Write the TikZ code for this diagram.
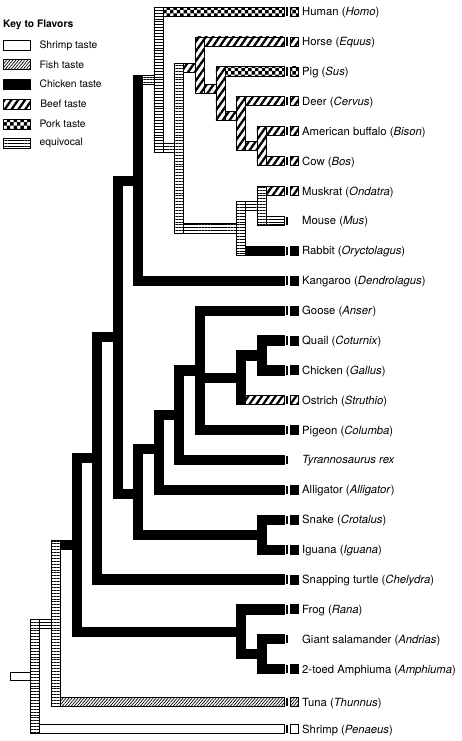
\documentclass[tikz,border=0pt]{standalone}
\usepackage{fontspec}
\setmainfont{TeX Gyre Heros}
\usetikzlibrary{calc,positioning,patterns,patterns.meta}

\pgfdeclarepatternformonly{porkcheck}{\pgfqpoint{-0.1pt}{-0.1pt}}{\pgfqpoint{6.9pt}{6.9pt}}{\pgfqpoint{6.8pt}{6.8pt}}{%
  \pgfpathrectangle{\pgfqpoint{0pt}{0pt}}{\pgfqpoint{3.4pt}{3.4pt}}%
  \pgfpathrectangle{\pgfqpoint{3.4pt}{3.4pt}}{\pgfqpoint{3.4pt}{3.4pt}}%
  \pgfusepath{fill}}

\tikzset{
  flavor/.style={draw=black, line width=0.8pt},
  shrimp/.style={flavor, fill=white},
  fish/.style={flavor, pattern={Lines[angle=50,distance=2.3pt,line width=0.7pt]}},
  chicken/.style={flavor, fill=black},
  beef/.style={flavor, pattern={Lines[angle=55,distance=5.6pt,line width=2.3pt]}},
  pork/.style={flavor, pattern=porkcheck},
  equiv/.style={flavor, pattern={Lines[angle=0,distance=2.9pt,line width=0.7pt]}},
  taxon/.style={anchor=west, inner sep=0pt, text height=8pt, text depth=0pt,
    font=\fontsize{11.3}{13}\selectfont},
  swatch/.style={minimum width=27pt, minimum height=10pt, inner sep=0pt},
  keytext/.style={anchor=west, inner sep=0pt, font=\fontsize{10.3}{12}\selectfont}
}

% vertical bar of node #2, from child #3 down to child #4
\newcommand\clade[4]{%
  \path[#1] ($(#2|-#3)+(-4.6,-4.6)$) rectangle ($(#2|-#4)+(4.6,4.6)$);}
% horizontal bar from node #2 to inner node #3
\newcommand\branch[3]{%
  \path[#1] ($(#2|-#3)+(4.6,-4.6)$) rectangle ($(#3)+(-4.6,4.6)$);}
% horizontal bar from node #2 to taxon #3, with end tick
\newcommand\twig[3]{%
  \path[#1] ($(#2|-#3.west)+(4.6,-4.6)$) rectangle ($(#3.west)+(-17.5,4.6)$);
  \draw[line width=1.8pt] ($(#3.west)+(-14.8,-4.2)$) -- ++(0,8.4);}
% same, plus the little taste box
\newcommand\leaf[3]{%
  \twig{#1}{#2}{#3}%
  \path[#1] ($(#3.west)+(-11.5,-4.5)$) rectangle ($(#3.west)+(-4,4.5)$);}

\begin{document}
\begin{tikzpicture}[x=1pt, y=-1pt]
  \useasboundingbox (0,0) rectangle (461,741);

  % key
  \node[keytext, font=\fontsize{10.3}{12}\selectfont\bfseries] (keytitle) at (3,25) {Key to Flavors};
  \node[swatch, shrimp] (k-shrimp) at (16.5,45.5) {};
  \node[swatch, fish, below=8.5pt of k-shrimp] (k-fish) {};
  \node[swatch, chicken, below=8.5pt of k-fish] (k-chicken) {};
  \node[swatch, beef, below=8.5pt of k-chicken] (k-beef) {};
  \node[swatch, pork, below=8.5pt of k-beef] (k-pork) {};
  \node[swatch, equiv, below=8.5pt of k-pork] (k-equiv) {};
  \node[keytext, right=9pt of k-shrimp] {Shrimp taste};
  \node[keytext, right=9pt of k-fish] {Fish taste};
  \node[keytext, right=9pt of k-chicken] {Chicken taste};
  \node[keytext, right=9pt of k-beef] {Beef taste};
  \node[keytext, right=9pt of k-pork] {Pork taste};
  \node[keytext, right=9pt of k-equiv] {equivocal};

  % taxa
  \node[taxon] (homo) at (302,11.7) {Human (\textit{Homo})};
  \node[taxon] (equus) at (302,41.6) {Horse (\textit{Equus})};
  \node[taxon] (sus) at (302,71.5) {Pig (\textit{Sus})};
  \node[taxon] (cervus) at (302,101.3) {Deer (\textit{Cervus})};
  \node[taxon] (bison) at (302,131.2) {American buffalo (\textit{Bison})};
  \node[taxon] (bos) at (302,161.1) {Cow (\textit{Bos})};
  \node[taxon] (ondatra) at (302,191.0) {Muskrat (\textit{Ondatra})};
  \node[taxon] (mus) at (302,220.9) {Mouse (\textit{Mus})};
  \node[taxon] (oryctolagus) at (302,250.7) {Rabbit (\textit{Oryctolagus})};
  \node[taxon] (dendrolagus) at (302,280.6) {Kangaroo (\textit{Dendrolagus})};
  \node[taxon] (anser) at (302,310.5) {Goose (\textit{Anser})};
  \node[taxon] (coturnix) at (302,340.4) {Quail (\textit{Coturnix})};
  \node[taxon] (gallus) at (302,370.3) {Chicken (\textit{Gallus})};
  \node[taxon] (struthio) at (302,400.1) {Ostrich (\textit{Struthio})};
  \node[taxon] (columba) at (302,430.0) {Pigeon (\textit{Columba})};
  \node[taxon] (trex) at (302,459.9) {\textit{Tyrannosaurus rex}};
  \node[taxon] (alligator) at (302,489.8) {Alligator (\textit{Alligator})};
  \node[taxon] (crotalus) at (302,519.7) {Snake (\textit{Crotalus})};
  \node[taxon] (iguana) at (302,549.5) {Iguana (\textit{Iguana})};
  \node[taxon] (chelydra) at (302,579.4) {Snapping turtle (\textit{Chelydra})};
  \node[taxon] (rana) at (302,609.3) {Frog (\textit{Rana})};
  \node[taxon] (andrias) at (302,639.2) {Giant salamander (\textit{Andrias})};
  \node[taxon] (amphiuma) at (302,669.1) {2-toed Amphiuma (\textit{Amphiuma})};
  \node[taxon] (thunnus) at (302,702) {Tuna (\textit{Thunnus})};
  \node[taxon] (penaeus) at (302,729) {Shrimp (\textit{Penaeus})};

  % inner nodes
  \coordinate (base) at (10,676.3);
  \coordinate (root) at (35,676.3);
  \coordinate (n1) at (56,623.5);
  \coordinate (n2) at (76.5,545);
  \coordinate (n3) at (97,458.2);
  \coordinate (n4) at (117.5,337);
  \coordinate (mam) at (138,180.5);
  \coordinate (plac) at (158.5,80.3);
  \coordinate (n7) at (179,148);
  \coordinate (ung) at (200,68);
  \coordinate (n9) at (220.5,89);
  \coordinate (n10) at (241,116);
  \coordinate (bov) at (261.5,146.2);
  \coordinate (glires) at (241,228.3);
  \coordinate (mm) at (261.5,205.9);
  \coordinate (rept) at (138,493.5);
  \coordinate (arch) at (158.5,449);
  \coordinate (n8) at (179,415.1);
  \coordinate (birds) at (200,370.3);
  \coordinate (n10b) at (241,377.7);
  \coordinate (gall) at (261.5,355.3);
  \coordinate (squam) at (261.5,534.6);
  \coordinate (frogs) at (241,631.7);
  \coordinate (sal) at (261.5,654.1);

  % verticals
  \clade{equiv}{root}{n1}{penaeus}
  \clade{equiv}{n1}{n2}{thunnus}
  \clade{chicken}{n2}{n3}{frogs}
  \clade{chicken}{n3}{n4}{chelydra}
  \clade{chicken}{n4}{mam}{rept}
  \clade{chicken}{mam}{plac}{dendrolagus}
  \clade{equiv}{plac}{homo}{n7}
  \clade{equiv}{n7}{ung}{glires}
  \clade{beef}{ung}{equus}{n9}
  \clade{beef}{n9}{sus}{n10}
  \clade{beef}{n10}{cervus}{bov}
  \clade{beef}{bov}{bison}{bos}
  \clade{equiv}{glires}{mm}{oryctolagus}
  \clade{equiv}{mm}{ondatra}{mus}
  \clade{chicken}{rept}{arch}{squam}
  \clade{chicken}{arch}{n8}{alligator}
  \clade{chicken}{n8}{birds}{trex}
  \clade{chicken}{birds}{anser}{columba}
  \clade{chicken}{n10b}{gall}{struthio}
  \clade{chicken}{gall}{coturnix}{gallus}
  \clade{chicken}{squam}{crotalus}{iguana}
  \clade{chicken}{frogs}{rana}{sal}
  \clade{chicken}{sal}{andrias}{amphiuma}

  % horizontals
  \path[shrimp] ($(base)+(0,-4.3)$) rectangle ($(root)+(-4.6,4.3)$);
  \branch{equiv}{root}{n1}
  \leaf{shrimp}{root}{penaeus}
  \branch{chicken}{n1}{n2}
  \leaf{fish}{n1}{thunnus}
  \branch{chicken}{n2}{n3}
  \branch{chicken}{n2}{frogs}
  \branch{chicken}{n3}{n4}
  \leaf{chicken}{n3}{chelydra}
  \branch{chicken}{n4}{mam}
  \branch{chicken}{n4}{rept}
  \branch{equiv}{mam}{plac}
  \leaf{chicken}{mam}{dendrolagus}
  \leaf{pork}{plac}{homo}
  \branch{equiv}{plac}{n7}
  \branch{beef}{n7}{ung}
  \branch{equiv}{n7}{glires}
  \leaf{beef}{ung}{equus}
  \branch{beef}{ung}{n9}
  \leaf{pork}{n9}{sus}
  \branch{beef}{n9}{n10}
  \leaf{beef}{n10}{cervus}
  \branch{beef}{n10}{bov}
  \leaf{beef}{bov}{bison}
  \leaf{beef}{bov}{bos}
  \branch{equiv}{glires}{mm}
  \leaf{chicken}{glires}{oryctolagus}
  \leaf{beef}{mm}{ondatra}
  \twig{equiv}{mm}{mus}
  \branch{chicken}{rept}{arch}
  \branch{chicken}{rept}{squam}
  \branch{chicken}{arch}{n8}
  \leaf{chicken}{arch}{alligator}
  \branch{chicken}{n8}{birds}
  \twig{chicken}{n8}{trex}
  \leaf{chicken}{birds}{anser}
  \branch{chicken}{birds}{n10b}
  \leaf{chicken}{birds}{columba}
  \branch{chicken}{n10b}{gall}
  \leaf{beef}{n10b}{struthio}
  \leaf{chicken}{gall}{coturnix}
  \leaf{chicken}{gall}{gallus}
  \leaf{chicken}{squam}{crotalus}
  \leaf{chicken}{squam}{iguana}
  \leaf{chicken}{frogs}{rana}
  \branch{chicken}{frogs}{sal}
  \twig{chicken}{sal}{andrias}
  \leaf{chicken}{sal}{amphiuma}
\end{tikzpicture}
\end{document}
